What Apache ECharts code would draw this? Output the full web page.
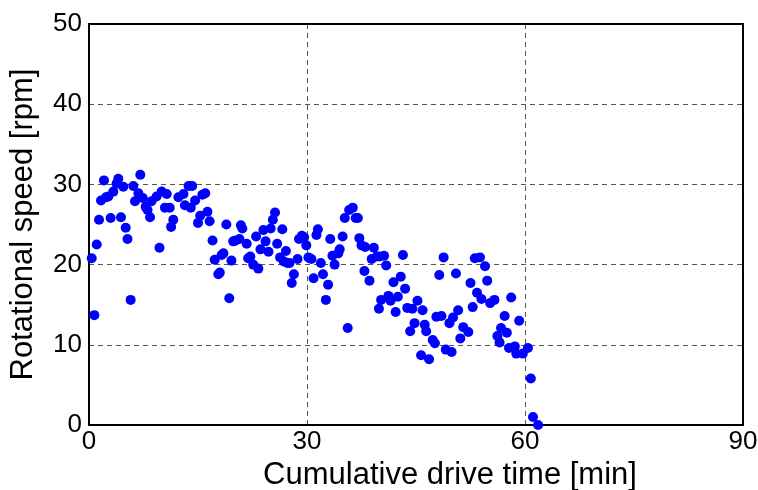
<!DOCTYPE html>
<html>
<head>
<meta charset="utf-8">
<script src="https://cdn.jsdelivr.net/npm/echarts@6/dist/echarts.min.js"></script>
<style>
    html, body {margin:0; padding:0; background:#fff;}
    #chart {width:758px; height:490px;}
</style>
</head>
<body>
<div id="chart"></div>
<script>
//drive time [min]
var time = [0.37, 0.73, 1.06, 1.38, 1.65, 2.06, 2.34, 2.66, 2.98, 3.35, 3.8, 4.03, 4.4, 4.72, 5.05, 5.3, 5.73, 6.1, 6.33, 6.8,
    7.06, 7.4, 7.8, 8.06, 8.4, 8.6, 9.3, 9.7, 10.0, 10.45, 10.7, 11.1, 11.3, 11.6, 12.3, 13.0, 13.2, 13.7, 14.0, 14.2,
    14.6, 15.0, 15.3, 15.6, 16.0, 16.3, 16.6, 17.0, 17.3, 17.8, 18.0, 18.25, 18.5, 18.9, 19.3, 19.6, 19.85, 20.2, 20.7, 20.9,
    21.1, 21.7, 21.9, 22.2, 22.6, 23.0, 23.3, 23.6, 24.0, 24.3, 24.7, 25.0, 25.3, 25.6, 25.9, 26.3, 26.6, 26.8, 27.3, 27.1,
    27.6, 27.9, 28.2, 28.7, 28.9, 29.3, 29.6, 29.9, 30.2, 30.6, 30.9, 31.3, 31.5, 31.9, 32.2, 32.6, 32.9, 33.2, 33.5, 33.8,
    34.3, 34.5, 34.9, 35.2, 35.6, 35.8, 36.3, 36.7, 37.0, 37.2, 37.5, 37.9, 38.0, 38.6, 38.9, 39.2, 39.6, 39.9, 40.0, 40.2,
    40.6, 40.9, 41.2, 41.5, 41.9, 42.2, 42.5, 42.9, 43.2, 43.5, 43.8, 44.2, 44.5, 44.8, 45.2, 45.7, 45.9, 46.2, 46.4, 46.8,
    47.3, 47.6, 47.8, 48.2, 48.5, 48.8, 49.1, 49.6, 49.9, 50.1, 50.5, 50.8, 51.1, 51.5, 52.2, 52.5, 52.8, 53.1, 53.4, 53.8,
    54.0, 54.5, 54.8, 55.2, 55.8, 56.2, 56.5, 56.7, 57.2, 57.5, 57.8, 58.1, 58.6, 58.8, 59.2, 59.7, 60.4, 60.8, 61.1, 61.8];
//rotational speed [rpm]
var speed = [20.8, 13.7, 22.5, 25.6, 28.0, 30.5, 28.4, 28.5, 25.8, 29.1, 30.1, 30.7, 25.9, 29.7, 24.6, 23.2, 15.6, 29.8, 27.9, 28.9,
    31.2, 28.3, 27.2, 26.8, 25.9, 27.9, 28.5, 22.1, 29.1, 27.1, 28.8, 27.1, 24.7, 25.6, 28.4, 28.8, 27.4, 29.8, 27.1, 29.8,
    28.0, 25.2, 26.1, 28.7, 28.9, 26.6, 25.4, 23.0, 20.6, 18.8, 19.0, 21.2, 21.4, 25.0, 15.8, 20.5, 22.9, 23.0, 23.2, 24.9,
    24.5, 22.6, 20.8, 21.0, 20.0, 23.5, 19.5, 21.9, 24.3, 22.9, 21.6, 24.5, 25.6, 26.5, 22.6, 20.9, 24.4, 20.4, 20.2, 21.7,
    20.2, 17.7, 18.8, 20.7, 23.2, 23.6, 23.4, 22.4, 20.9, 20.7, 18.3, 23.7, 24.4, 20.2, 18.8, 15.6, 17.5, 23.2, 21.1, 20.0,
    21.4, 21.9, 23.5, 25.8, 12.1, 26.8, 27.1, 25.8, 25.8, 23.3, 22.4, 19.2, 22.2, 18.0, 20.7, 22.1, 21.0, 14.5, 21.0, 15.6,
    21.1, 19.9, 16.1, 15.5, 17.8, 14.1, 16.0, 18.5, 21.2, 17.0, 14.6, 11.7, 14.5, 12.7, 15.5, 8.7, 14.3, 12.5, 11.7, 8.2,
    10.6, 10.2, 13.5, 18.7, 13.6, 20.9, 9.4, 12.7, 9.1, 13.4, 18.9, 14.3, 10.8, 12.2, 11.6, 17.7, 14.7, 20.8, 16.5, 20.9,
    15.7, 19.8, 18.0, 15.2, 15.6, 11.1, 10.3, 12.1, 13.6, 11.5, 9.6, 15.9, 9.8, 8.9, 13.0, 8.9, 9.6, 5.8, 1.0, 0.0];

var xTicks = [0, 30, 60, 90];
var yTicks = [0, 10, 20, 30, 40, 50];

var points = [];
for (var i = 0; i < time.length; i++) {
    points.push([time[i], speed[i]]);
}

var font = 'Liberation Sans, Arial, sans-serif';
var gridLine = {show: true, lineStyle: {color: '#555', type: [5, 4], width: 1}};
var boxLine = {show: true, onZero: false, lineStyle: {color: '#000', width: 2}};
var myChart = echarts.init(document.getElementById('chart'));
var option = {
    animation: false,
    backgroundColor: '#fff',
    grid: {
        left: 89,
        right: 15,
        top: 24,
        bottom: 65,
        outerBoundsMode: 'none'
    },
    xAxis: [
        {
            type: 'value',
            min: xTicks[0],
            max: xTicks[xTicks.length - 1],
            interval: 30,
            name: 'Cumulative drive time [min]',
            nameLocation: 'middle',
            nameGap: 30,
            nameTextStyle: {fontFamily: font, fontSize: 31, color: '#000', padding: [0, 0, 0, 68]},
            axisLine: boxLine,
            axisTick: {show: false},
            axisLabel: {fontFamily: font, fontSize: 26, color: '#000', margin: 4},
            splitLine: gridLine
        },
        {
            type: 'value',
            position: 'top',
            min: xTicks[0],
            max: xTicks[xTicks.length - 1],
            interval: 30,
            axisLine: boxLine,
            axisTick: {show: false},
            axisLabel: {show: false},
            splitLine: {show: false}
        }
    ],
    yAxis: [
        {
            type: 'value',
            min: yTicks[0],
            max: yTicks[yTicks.length - 1],
            interval: 10,
            name: 'Rotational speed [rpm]',
            nameLocation: 'middle',
            nameGap: 50,
            nameTextStyle: {fontFamily: font, fontSize: 31, color: '#000'},
            axisLine: boxLine,
            axisTick: {show: false},
            axisLabel: {fontFamily: font, fontSize: 26, color: '#000', margin: 7},
            splitLine: gridLine
        },
        {
            type: 'value',
            position: 'right',
            min: yTicks[0],
            max: yTicks[yTicks.length - 1],
            interval: 10,
            axisLine: boxLine,
            axisTick: {show: false},
            axisLabel: {show: false},
            splitLine: {show: false}
        }
    ],
    series: [
        {
            type: 'scatter',
            data: points,
            symbol: 'circle',
            symbolSize: 10,
            itemStyle: {color: '#0000ff', opacity: 1}
        }
    ]
};
myChart.setOption(option);
</script>
</body>
</html>
